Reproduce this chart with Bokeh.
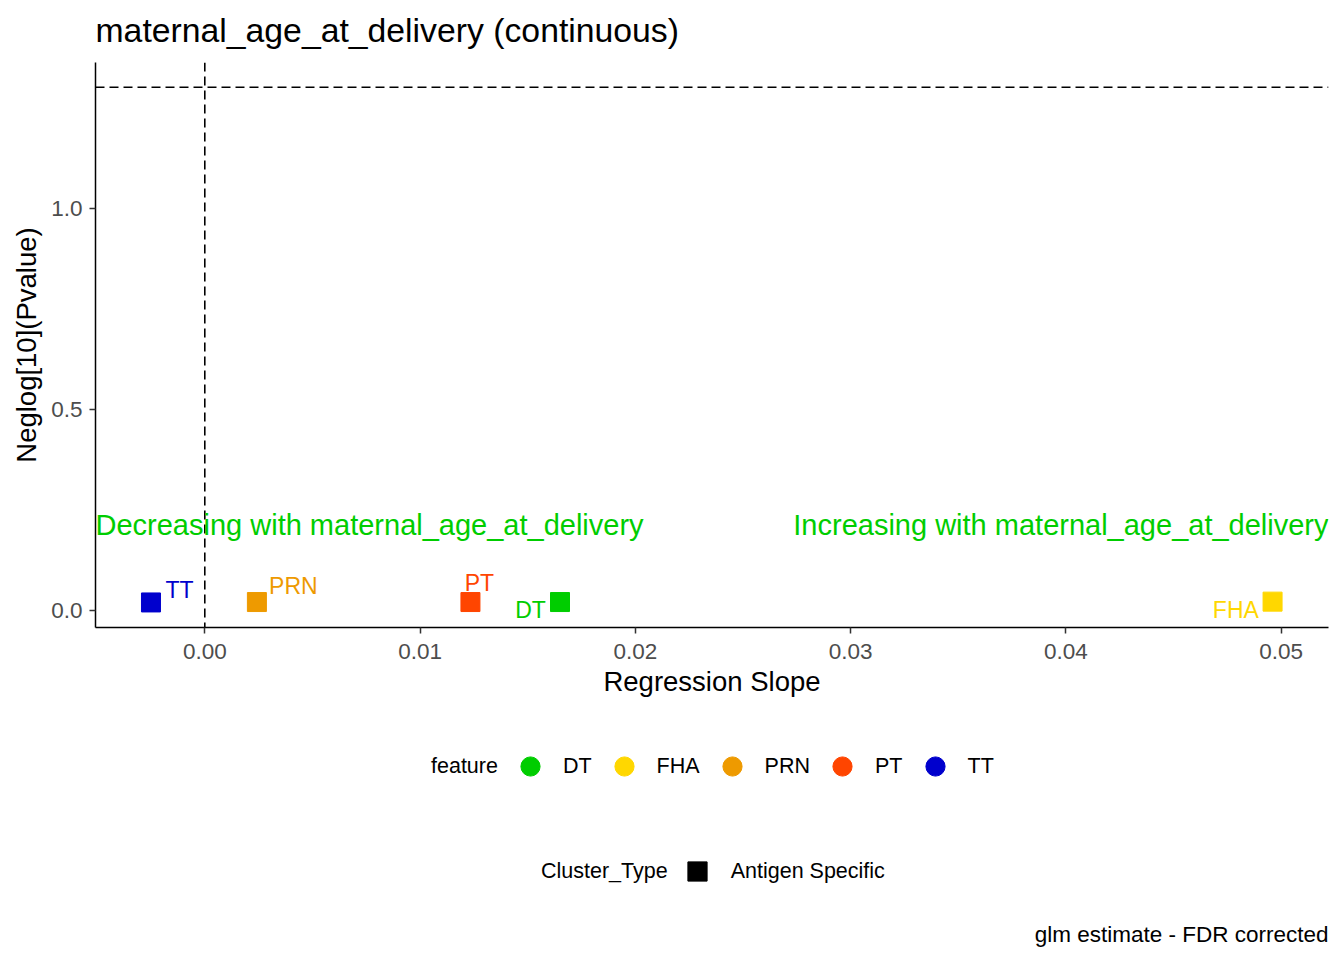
from bokeh.plotting import figure
from bokeh.layouts import column
from bokeh.models import (ColumnDataSource, Span, Label, Legend, LegendItem,
                          FixedTicker, PrintfTickFormatter, Range1d)
from bokeh.core.properties import value
from bokeh.embed import file_html
from bokeh.resources import INLINE

# ---- data ----
features = ["DT", "FHA", "PRN", "PT", "TT"]
slope = [0.0165, 0.0496, 0.00242, 0.01234, -0.0025]
neglog_p = [0.021, 0.022, 0.021, 0.021, 0.020]
feature_colors = ["#00CD00", "#FFD700", "#EE9A00", "#FF4500", "#0000CD"]
cluster_types = ["Antigen Specific"]
x_ticks = [0.00, 0.01, 0.02, 0.03, 0.04, 0.05]
y_ticks = [0.0, 0.5, 1.0]
p_threshold_neglog = 1.30103  # -log10(0.05)
x_limits = (-0.005077, 0.052198)
y_limits = (-0.0423, 1.3625)

title_text = "maternal_age_at_delivery (continuous)"
x_label = "Regression Slope"
y_label = "Neglog[10](Pvalue)"
caption_text = "glm estimate - FDR corrected"
decreasing_text = "Decreasing with maternal_age_at_delivery"
increasing_text = "Increasing with maternal_age_at_delivery"
legend1_title = "feature"
legend2_title = "Cluster_Type"

# label offsets (style, pixels) for repelled point labels
lab_dx = [-29.5, -36.7, 36.5, 9.0, 28.5]
lab_dy = [8.0, 8.0, -16.0, -19.5, -12.0]

FONT = "Liberation Sans"
GREEN = "#00CD00"
W = 1336
FRAME_W = 1233  # frame width shared by all stacked figures


def blank_fig(h):
    f = figure(width=W, height=h, output_backend="svg", toolbar_location=None,
               x_axis_type=None, y_axis_type=None,
               x_range=Range1d(0, 1), y_range=Range1d(0, 1),
               min_border_left=95, min_border_right=8, min_border_top=0,
               min_border_bottom=0)
    f.outline_line_color = None
    f.background_fill_color = "white"
    f.border_fill_color = "white"
    return f


# ---- header (title) ----
head = blank_fig(62)
head.add_layout(Label(x=0, y=33, x_units="screen", y_units="screen", text=title_text,
                      text_font=FONT, text_font_size="33.75px", text_color="black",
                      text_align="left", text_baseline="middle"))

# ---- main plot ----
src = ColumnDataSource(dict(x=slope, y=neglog_p, feature=features,
                            color=feature_colors, dx=lab_dx, dy=lab_dy))

p = figure(width=W, height=648, output_backend="svg", toolbar_location=None,
           x_range=Range1d(*x_limits), y_range=Range1d(*y_limits),
           min_border_left=95, min_border_right=8, min_border_top=0,
           min_border_bottom=83)
p.outline_line_color = None
p.xgrid.visible = False
p.ygrid.visible = False
p.background_fill_color = "white"
p.border_fill_color = "white"

for ax in (p.xaxis[0], p.yaxis[0]):
    ax.axis_line_color = "black"
    ax.axis_line_width = 1.5
    ax.major_tick_line_color = "#333333"
    ax.major_tick_line_width = 1.5
    ax.major_tick_out = 6
    ax.major_tick_in = 0
    ax.minor_tick_line_color = None
    ax.major_label_text_font = FONT
    ax.major_label_text_font_size = "22.5px"
    ax.major_label_text_color = "#4D4D4D"
    ax.axis_label_text_font = FONT
    ax.axis_label_text_font_size = "27.5px"
    ax.axis_label_text_font_style = "normal"
    ax.axis_label_text_color = "black"

p.xaxis[0].ticker = FixedTicker(ticks=x_ticks)
p.xaxis[0].formatter = PrintfTickFormatter(format="%.2f")
p.xaxis[0].axis_label = x_label
p.xaxis[0].major_label_standoff = 10
p.xaxis[0].axis_label_standoff = 4

p.yaxis[0].ticker = FixedTicker(ticks=y_ticks)
p.yaxis[0].formatter = PrintfTickFormatter(format="%.1f")
p.yaxis[0].axis_label = y_label
p.yaxis[0].major_label_standoff = 7
p.yaxis[0].axis_label_standoff = 6

# reference lines
p.add_layout(Span(location=0, dimension="height", line_color="black",
                  line_width=1.6, line_dash="9 5"))
p.add_layout(Span(location=p_threshold_neglog, dimension="width", line_color="black",
                  line_width=1.6, line_dash="9 5"))

# points
p.scatter("x", "y", source=src, marker="square", size=19,
          fill_color="color", line_color="color")

# point labels
p.text("x", "y", text="feature", source=src, text_color="color",
       x_offset="dx", y_offset="dy", text_align="center", text_baseline="middle",
       text_font=value(FONT), text_font_size="23px")

# direction annotations
p.add_layout(Label(x=0, y=103, x_units="screen", y_units="screen", text=decreasing_text,
                   text_font=FONT, text_font_size="29px", text_color=GREEN,
                   text_align="left", text_baseline="middle"))
p.add_layout(Label(x=FRAME_W, y=103, x_units="screen", y_units="screen",
                   text=increasing_text, text_font=FONT, text_font_size="29px",
                   text_color=GREEN, text_align="right", text_baseline="middle"))

# ---- footer (legends + caption) ----
foot = blank_fig(242)
# legend-key renderers sit outside the footer's visible range (only their keys show)
OFF = [-5]


def key(marker, color, alpha=1.0):
    return foot.scatter(x=OFF, y=OFF, marker=marker, size=19, fill_color=color,
                        line_color=color, fill_alpha=alpha, line_alpha=alpha)


items1 = [LegendItem(label=legend1_title, renderers=[key("circle", "white", 0.0)])]
for f, c in zip(features, feature_colors):
    items1.append(LegendItem(label=f, renderers=[key("circle", c)]))
leg1 = Legend(items=items1, orientation="horizontal", location=(279, 162),
              glyph_width=48, glyph_height=48, label_standoff=9, spacing=8,
              padding=0, margin=0, border_line_color=None, background_fill_alpha=0,
              label_text_font=FONT, label_text_font_size="21.5px",
              label_text_color="black")
foot.add_layout(leg1, "center")

items2 = [LegendItem(label=legend2_title, renderers=[key("square", "white", 0.0)])]
for ct in cluster_types:
    items2.append(LegendItem(label=ct, renderers=[key("square", "black")]))
leg2 = Legend(items=items2, orientation="horizontal", location=(388, 57),
              glyph_width=48, glyph_height=48, label_standoff=10, spacing=5,
              padding=0, margin=0, border_line_color=None, background_fill_alpha=0,
              label_text_font=FONT, label_text_font_size="21.5px",
              label_text_color="black")
foot.add_layout(leg2, "center")

foot.add_layout(Label(x=FRAME_W, y=18, x_units="screen", y_units="screen",
                      text=caption_text, text_font=FONT, text_font_size="22.5px",
                      text_color="black", text_align="right", text_baseline="middle"))

layout = column(head, p, foot, spacing=0)
open("out.html", "w").write(file_html(layout, INLINE))
